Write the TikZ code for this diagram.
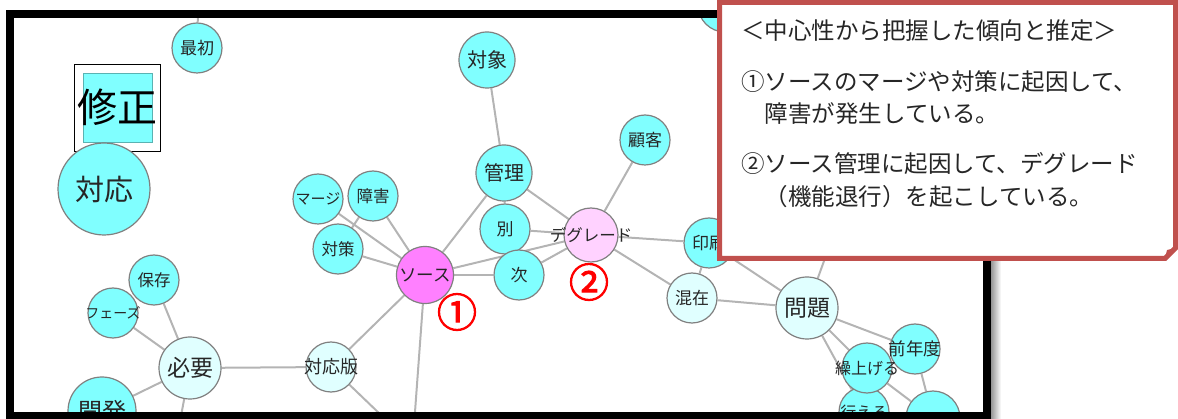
\documentclass[tikz,border=0pt]{standalone}
\usepackage{fontspec}
\newfontfamily\jp{Noto Sans CJK JP}
\newfontfamily\jpnum[FakeBold=2.5]{Noto Sans CJK JP}
\usetikzlibrary{backgrounds}
\definecolor{nodecyan}{HTML}{80FFFF}
\definecolor{nodepale}{HTML}{E0FFFF}
\definecolor{nodemag}{HTML}{FF80FF}
\definecolor{nodepink}{HTML}{FFD2FF}
\definecolor{edgegray}{HTML}{B4B4B4}
\definecolor{ringgray}{HTML}{808080}
\definecolor{calloutred}{HTML}{C0504D}
\newcommand{\ov}[1]{\makebox[0pt]{#1}}
\tikzset{
  x=1pt, y=-1pt,
  fs/.style={font=\jp\fontsize{#1}{#1}\selectfont},
  vtx/.style={circle, draw=ringgray, line width=1.2pt, inner sep=0pt, text=black!85},
  cyanv/.style={vtx, fill=nodecyan},
  palev/.style={vtx, fill=nodepale},
  sz/.style={minimum size=#1pt},
  lnk/.style={draw=edgegray, line width=2pt},
  numlabel/.style={text=red, inner sep=0pt, font=\jpnum\fontsize{40}{40}\selectfont},
  calltext/.style={anchor=west, inner sep=0pt, text=black!85, font=\jp\fontsize{23.5}{24}\selectfont}
}
\begin{document}
\begin{tikzpicture}
\useasboundingbox (0,0) rectangle (1178,419);

% partly hidden top-right node, clipped to the frame
\begin{scope}
  \clip (14,18) rectangle (983,412);
  \node[cyanv, sz=54] (topright) at (725,5) {};
\end{scope}

% nodes
\node[draw=black, line width=0.8pt, minimum width=86pt, minimum height=87pt, inner sep=0pt] (shuseibox) at (117,107.5) {};
\node[fill=nodecyan, draw=nodecyan!70!black, line width=0.4pt, minimum size=69pt, inner sep=0pt, fs=40] (shusei) at (117.5,107.5) {\ov{修正}};
\node[cyanv, sz=50, fs=17] (saisho) at (197,48) {最初};
\node[cyanv, sz=92, fs=29] (taiou) at (104,189) {対応};
\node[cyanv, sz=50, fs=15] (marge) at (318,199) {\ov{マージ}};
\node[cyanv, sz=50, fs=16.5] (shogai) at (373,196) {障害};
\node[cyanv, sz=50, fs=16.5] (taisaku) at (338,249) {対策};
\node[vtx, fill=nodemag, sz=57, fs=17.5] (source) at (425,275) {\ov{ソース}};
\node[cyanv, sz=50, fs=17] (betsu) at (505,229) {別};
\node[cyanv, sz=50, fs=17] (tsugi) at (519,275) {次};
\node[cyanv, sz=56, fs=20] (kanri) at (504,173) {管理};
\node[cyanv, sz=56, fs=20] (taisho) at (487,60) {対象};
\node[cyanv, sz=50, fs=17] (kokyaku) at (645,140) {顧客};
\node[vtx, fill=nodepink, sz=54, fs=16.5] (degrade) at (591,235) {\ov{デグレード}};
\node[cyanv, sz=50, fs=17] (insatsu) at (709,243) {印刷};
\node[palev, sz=50, fs=17] (konzai) at (692,298) {混在};
\node[palev, sz=62, fs=23] (mondai) at (807,308) {問題};
\node[cyanv, sz=50, fs=17.5] (zennendo) at (915,349) {\ov{前年度}};
\node[cyanv, sz=50, fs=16] (okonaeru) at (864,412) {\ov{行える}};
\node[cyanv, sz=50, fs=16] (kuriage) at (867,368) {\ov{繰上げる}};
\node[cyanv, sz=54] (botright) at (933,418) {};
\node[cyanv, sz=68, fs=24] (kaihatsu) at (102,411) {開発};
\node[palev, sz=62, fs=23] (hitsuyo) at (190,368) {必要};
\node[cyanv, sz=50, fs=16.5] (hozon) at (154,280) {保存};
\node[cyanv, sz=50, fs=14] (phase) at (113,313) {\ov{フェーズ}};
\node[palev, sz=50, fs=18] (taiouban) at (331,367) {\ov{対応版}};

\node[numlabel] (num1) at (457,312) {①};
\node[numlabel] (num2) at (589,282) {②};

% free ends of connectors
\coordinate (upend) at (198,12);
\coordinate (srcdown) at (414.7,416);
\coordinate (bandown) at (382,416);
\coordinate (hitdown) at (181,416);
\coordinate (hiddenq) at (828,250);

% connectors
\begin{scope}[on background layer]
  \draw[lnk] (saisho) -- (upend);
  \draw[lnk] (marge) -- (source);
  \draw[lnk] (shogai) -- (source);
  \draw[lnk] (taisaku) -- (source);
  \draw[lnk] (shogai) -- (taisaku);
  \draw[lnk] (source) -- (kanri);
  \draw[lnk] (source) -- (degrade);
  \draw[lnk] (source) -- (tsugi);
  \draw[lnk] (source) -- (taiouban);
  \draw[lnk] (source) -- (srcdown);
  \draw[lnk] (taisho) -- (kanri);
  \draw[lnk] (kanri) -- (betsu);
  \draw[lnk] (kanri) -- (degrade);
  \draw[lnk] (betsu) -- (degrade);
  \draw[lnk] (tsugi) -- (degrade);
  \draw[lnk] (kokyaku) -- (degrade);
  \draw[lnk] (degrade) -- (insatsu);
  \draw[lnk] (degrade) -- (konzai);
  \draw[lnk] (insatsu) -- (konzai);
  \draw[lnk] (insatsu) -- (mondai);
  \draw[lnk] (konzai) -- (mondai);
  \draw[lnk] (mondai) -- (hiddenq);
  \draw[lnk] (mondai) -- (zennendo);
  \draw[lnk] (mondai) -- (kuriage);
  \draw[lnk] (mondai) -- (okonaeru);
  \draw[lnk] (zennendo) -- (botright);
  \draw[lnk] (kuriage) -- (botright);
  \draw[lnk] (okonaeru) -- (botright);
  \draw[lnk] (hitsuyo) -- (taiouban);
  \draw[lnk] (hitsuyo) -- (hozon);
  \draw[lnk] (hitsuyo) -- (phase);
  \draw[lnk] (hitsuyo) -- (kaihatsu);
  \draw[lnk] (hitsuyo) -- (hitdown);
  \draw[lnk] (taiouban) -- (bandown);
\end{scope}

% frame with shadow
\shade[left color=black!45, right color=white] (990,22) rectangle (1001,419);
\draw[black, line width=8pt] (10,14.5) rectangle (987,416);

% callout
\draw[calloutred, line width=5pt, fill=white, line join=miter]
  (719.5,2.5) -- (1175.5,2.5) -- (1175.5,248) -- (1165,258.5) -- (719.5,258.5) -- cycle;
\fill[calloutred] (1165,258.5) -- (1175.5,248) -- (1167,250) -- cycle;
\node[calltext] (c1) at (741,31) {＜中心性から把握した傾向と推定＞};
\node[calltext] (c2) at (741,82) {①ソースのマージや対策に起因して、};
\node[calltext] (c3) at (764.5,114) {障害が発生している。};
\node[calltext] (c4) at (741,164) {②ソース管理に起因して、デグレード};
\node[calltext] (c5) at (764.5,197) {（機能退行）を起こしている。};
\end{tikzpicture}
\end{document}
